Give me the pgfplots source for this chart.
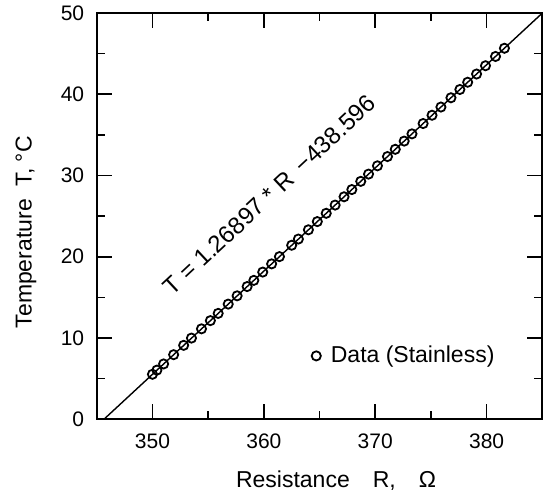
\documentclass[border=0pt]{standalone}
\usepackage{fontspec}
\setmainfont{Liberation Sans}
\usepackage{pgfplots}
\pgfplotsset{compat=1.18}

\begin{document}
\begin{tikzpicture}
\useasboundingbox (-48.4pt,-38.9pt) rectangle (225.65pt,209.7pt);
\begin{axis}[
  width=222.8pt, height=203.3pt, scale only axis,
  xmin=345, xmax=385, ymin=0, ymax=50,
  xtick={350,360,370,380}, minor xtick={355,365,375},
  ytick={0,10,...,50}, minor ytick={5,15,...,45},
  tick align=inside, major tick length=7.5pt, minor tick length=4pt,
  axis line style={line width=1pt},
  every tick/.style={black, line width=0.8pt},
  tick label style={font=\fontsize{10.5}{12}\selectfont},
  /pgf/number format/assume math mode=true,
  xticklabel style={yshift=-3.5pt},
  yticklabel style={xshift=-2.8pt},
  label style={font=\fontsize{11.5}{13}\selectfont},
  xlabel={Resistance\quad R,\quad Ω},
  xlabel style={at={(axis description cs:0.537,-0.152)}, anchor=center},
  ylabel={Temperature\ \ T, °C},
  ylabel style={at={(axis description cs:-0.159,0.46)}, anchor=center},
  legend style={at={(0.468,0.156)}, anchor=west, draw=none, fill=none,
    font=\fontsize{11.5}{13}\selectfont},
  legend cell align=left,
]
\addplot[black, line width=0.7pt, forget plot] coordinates {(345.64,0) (385,49.96)};
\addplot[only marks, mark=o, mark size=2.3pt, mark options={line width=0.9pt}, black]
  coordinates {
  (350.0,5.54) (350.4,6.05) (351.0,6.81) (351.9,7.95) (352.8,9.10)
  (353.5,9.99) (354.4,11.13) (355.2,12.14) (355.9,13.03) (356.8,14.17)
  (357.6,15.19) (358.5,16.33) (359.1,17.09) (359.9,18.11) (360.7,19.12)
  (361.4,20.01) (362.5,21.41) (363.1,22.17) (364.0,23.31) (364.8,24.32)
  (365.6,25.34) (366.4,26.35) (367.2,27.37) (367.9,28.26) (368.7,29.27)
  (369.4,30.16) (370.2,31.18) (371.1,32.32) (371.8,33.21) (372.6,34.22)
  (373.3,35.11) (374.3,36.38) (375.1,37.40) (375.9,38.41) (376.8,39.55)
  (377.6,40.57) (378.3,41.46) (379.1,42.47) (379.9,43.49) (380.8,44.63)
  (381.6,45.64)};
\addlegendentry{\hspace{3pt}Data (Stainless)}
\node[rotate=43, font=\fontsize{12}{14}\selectfont] at (axis cs:360.5,27.6)
  {T = 1.26897 * R \,−438.596};
\end{axis}
\end{tikzpicture}
\end{document}
